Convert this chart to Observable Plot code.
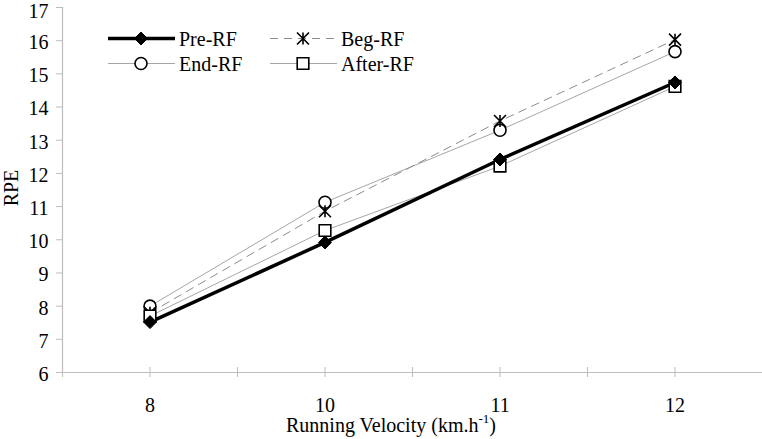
<!DOCTYPE html>
<html>
<head>
<meta charset="utf-8">
<script src="https://cdn.jsdelivr.net/npm/d3@7"></script>
<script src="https://cdn.jsdelivr.net/npm/@observablehq/plot@0.6"></script>
<style>
  html, body { margin: 0; padding: 0; background: #fff; }
  #chart { position: relative; width: 762px; height: 439px; }
  svg, svg text { font-family: "Liberation Serif", Tinos, "Times New Roman", "DejaVu Serif", serif !important; }
</style>
</head>
<body>
<div id="chart"></div>
<script>
// ---- data ----
const velocities = ["8", "10", "11", "12"];
const preRF   = [7.52, 9.92, 12.42, 14.74];
const begRF   = [7.80, 10.86, 13.58, 16.03];
const endRF   = [8.00, 11.13, 13.30, 15.67];
const afterRF = [7.70, 10.28, 12.22, 14.62];
const yTicks  = [6, 7, 8, 9, 10, 11, 12, 13, 14, 15, 16, 17];
const seriesNames = ["Pre-RF", "Beg-RF", "End-RF", "After-RF"];
const xLabel = "Running Velocity (km.h";
const yLabel = "RPE";

const font = '"Liberation Serif", Tinos, "Times New Roman", "DejaVu Serif", serif';

// ---- custom Excel-like marker symbols (size -> half extent r) ----
const half = size => Math.sqrt(size / Math.PI);
const diamondSym = {draw(c, s) { const r = half(s); c.moveTo(0, -r); c.lineTo(r, 0); c.lineTo(0, r); c.lineTo(-r, 0); c.closePath(); }};
const squareSym  = {draw(c, s) { const r = half(s); c.rect(-r, -r, 2 * r, 2 * r); }};
const starSym    = {draw(c, s) { const r = half(s); c.moveTo(-r, -r); c.lineTo(r, r); c.moveTo(r, -r); c.lineTo(-r, r); c.moveTo(0, -r); c.lineTo(0, r); }};

const styles = {
  "Pre-RF":   {stroke: "#000", strokeWidth: 3.5, dash: null, symbol: diamondSym, r: 6.5, fill: "#000", mstroke: "#000", msw: 1},
  "Beg-RF":   {stroke: "#8c8c8c", strokeWidth: 1, dash: "8,6", symbol: starSym, r: 6, fill: "none", mstroke: "#000", msw: 1.6},
  "End-RF":   {stroke: "#a6a6a6", strokeWidth: 1, dash: null, symbol: "circle", r: 6, fill: "#fff", mstroke: "#000", msw: 1.6},
  "After-RF": {stroke: "#a6a6a6", strokeWidth: 1, dash: null, symbol: squareSym, r: 5.8, fill: "#fff", mstroke: "#000", msw: 1.6}
};

const valuesBySeries = {"Pre-RF": preRF, "Beg-RF": begRF, "End-RF": endRF, "After-RF": afterRF};
const rowsFor = name => valuesBySeries[name].map((v, i) => ({i, v, series: name}));

const idx = velocities.map((_, i) => i);
const boundaries = [-0.5, 0.5, 1.5, 2.5, 3.5];
const drawOrder = ["End-RF", "Beg-RF", "After-RF", "Pre-RF"];
const topTick = yTicks[yTicks.length - 1];

const marks = [];
marks.push(Plot.ruleY([6], {x1: -0.5, x2: 3.5, stroke: "#bdbdbd", strokeWidth: 1.2}));
marks.push(Plot.ruleX([-0.5], {y1: 6, y2: 17, stroke: "#bdbdbd", strokeWidth: 1.2}));
marks.push(Plot.ruleX(idx.concat(boundaries), {y1: 6, y2: 6, insetTop: -5, insetBottom: -5, stroke: "#bdbdbd", strokeWidth: 1}));
marks.push(Plot.axisY({ticks: yTicks, tickSize: 6, tickPadding: 8, stroke: "#bdbdbd", text: null, label: null}));
marks.push(Plot.axisY({ticks: yTicks.slice(0, -1), tickSize: 0, tickPadding: 14, fontSize: 20, label: null, dy: 2, tickFormat: d => String(d)}));
marks.push(Plot.axisY({ticks: [topTick], tickSize: 0, tickPadding: 14, fontSize: 20, label: null, dy: 4.5, tickFormat: d => String(d)}));
marks.push(Plot.axisX({ticks: idx, tickSize: 0, tickPadding: 25, fontSize: 20, label: null, tickFormat: i => velocities[i]}));

for (const name of drawOrder) {
  const st = styles[name];
  marks.push(Plot.line(rowsFor(name), {x: "i", y: "v", stroke: st.stroke, strokeWidth: st.strokeWidth, strokeDasharray: st.dash || undefined}));
}
for (const name of drawOrder) {
  const st = styles[name];
  marks.push(Plot.dot(rowsFor(name), {x: "i", y: "v", symbol: () => st.symbol, r: st.r, fill: st.fill, stroke: st.mstroke, strokeWidth: st.msw}));
}

const svg = Plot.plot({
  width: 762,
  height: 439,
  marginLeft: 62,
  marginRight: 0,
  marginTop: 7,
  marginBottom: 67,
  style: {fontSize: "20px", color: "#000", background: "#fff"},
  x: {domain: [-0.5, 3.5], axis: null},
  y: {domain: [6, 17], axis: null},
  symbol: {type: "identity"},
  marks
});

document.getElementById("chart").appendChild(svg);

const root = d3.select(svg);

const xt = root.append("text")
  .attr("x", 391).attr("y", 432)
  .attr("text-anchor", "middle")
  .attr("font-family", font).attr("font-size", 20).attr("fill", "#000");
xt.append("tspan").text(xLabel);
xt.append("tspan").attr("font-size", 13).attr("dy", -9).text("-1");
xt.append("tspan").attr("dy", 9).text(")");

root.append("text")
  .attr("transform", "translate(18,188) rotate(-90)")
  .attr("text-anchor", "middle")
  .attr("font-family", font).attr("font-size", 20).attr("fill", "#000")
  .text(yLabel);

const legendPos = [
  {name: "Pre-RF", x: 108, y: 38.5},
  {name: "Beg-RF", x: 270, y: 38.5},
  {name: "End-RF", x: 108, y: 63.5},
  {name: "After-RF", x: 270, y: 63.5}
];
for (const p of legendPos) {
  const st = styles[p.name];
  const g = root.append("g").attr("transform", `translate(${p.x},${p.y})`);
  g.append("line").attr("x1", 0).attr("x2", 67).attr("y1", 0).attr("y2", 0)
    .attr("stroke", st.stroke).attr("stroke-width", st.strokeWidth)
    .attr("stroke-dasharray", st.dash);
  const sym = st.symbol === "circle" ? d3.symbolCircle : st.symbol;
  g.append("path").attr("transform", "translate(33,0)")
    .attr("d", d3.symbol(sym, st.r * st.r * Math.PI)())
    .attr("fill", st.fill).attr("stroke", st.mstroke).attr("stroke-width", st.msw);
  g.append("text").attr("x", 71).attr("y", 0).attr("dy", "0.35em")
    .attr("text-anchor", "start")
    .attr("font-family", font).attr("font-size", 20).attr("fill", "#000")
    .text(p.name);
}
</script>
</body>
</html>
